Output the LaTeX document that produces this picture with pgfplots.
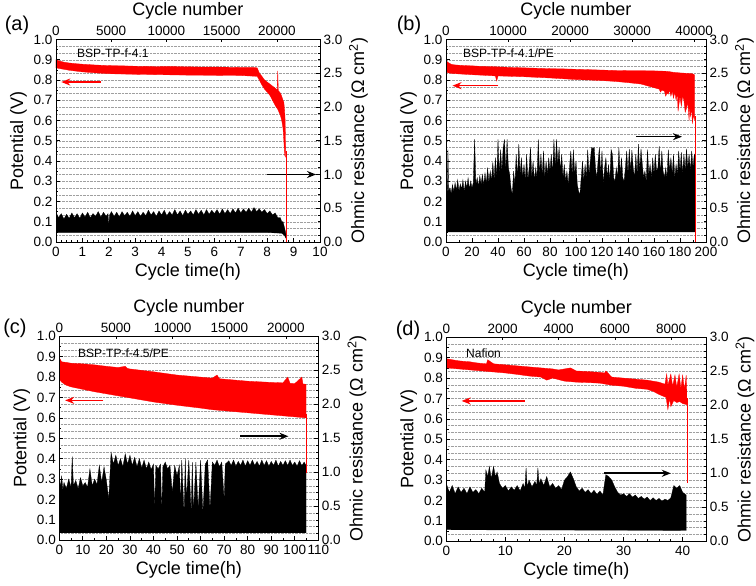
\documentclass[border=0pt]{standalone}
\usepackage{fontspec}
\setmainfont{Liberation Sans}
\usepackage{pgfplots}
\pgfplotsset{compat=1.18}
\usetikzlibrary{arrows.meta}
\pgfplotsset{
 base/.style={scale only axis, axis line style={line width=0.8pt}, tick align=inside,
   tick label style={font=\fontsize{13.5}{14}\selectfont},
   label style={font=\fontsize{18}{19}\selectfont},
   /pgf/number format/assume math mode=true,
   major tick length=4pt, minor tick length=2.2pt,
   every tick/.style={black, line width=0.7pt}},
 rax/.style={base, ymin=0, ymax=3, ytick={0,0.5,...,3}, minor y tick num=4,
   ytick pos=right, yticklabel pos=right,
   yticklabel style={/pgf/number format/fixed, /pgf/number format/fixed zerofill, /pgf/number format/precision=1},
   xticklabel style={yshift=-1.5pt},
   ymajorgrids, yminorgrids,
   major grid style={densely dotted, gray!75, line width=0.45pt},
   minor grid style={densely dotted, gray!75, line width=0.45pt},
   xtick pos=left, xticklabel pos=left,
   xlabel={Cycle time(h)}, ylabel={Ohmic resistance (Ω cm\textsuperscript{2})}},
 lax/.style={base, ymin=0, ymax=1, ytick={0,0.1,...,1.0}, minor y tick num=1,
   ytick pos=left, xtick=\empty,
   yticklabel style={/pgf/number format/fixed, /pgf/number format/fixed zerofill, /pgf/number format/precision=1},
   ylabel={Potential (V)}},
 tax/.style={base, ymin=0, ymax=1, ytick=\empty, xtick pos=right, xticklabel pos=right,
   xlabel={Cycle number}, scaled x ticks=false, major tick length=3pt,
   xticklabel style={/pgf/number format/1000 sep={}}},
}
\tikzset{rarrow/.style={red, line width=1.6pt, -{Stealth[length=9pt,width=7pt]}},
 karrow/.style={black, line width=1.6pt, -{Stealth[length=9pt,width=7pt]}}}
\begin{document}
\begin{tikzpicture}
%%%%%%%%%%%%%%%%%%%%%%%% (a)
\begin{axis}[rax, at={(56pt,344pt)}, anchor=south west, width=264pt, height=202.5pt,
  xmin=0, xmax=10, xtick={0,1,...,10}, minor x tick num=4]
\addplot[fill=black, draw=black, line width=0.3pt] coordinates {
(0,0.44) (0.1,0.36) (0.2,0.42) (0.3,0.34) (0.4,0.41) (0.5,0.35) (0.6,0.43) (0.7,0.36) (0.8,0.42) (0.9,0.35)
(1.0,0.43) (1.1,0.37) (1.2,0.44) (1.3,0.36) (1.4,0.42) (1.5,0.38) (1.6,0.45) (1.7,0.37) (1.8,0.44) (1.9,0.38)
(1.97,0.42) (2.0,0.24) (2.03,0.40) (2.1,0.45) (2.2,0.38) (2.3,0.44) (2.4,0.37) (2.5,0.45) (2.6,0.39) (2.7,0.44)
(2.8,0.38) (2.9,0.46) (3.0,0.39) (3.1,0.45) (3.2,0.38) (3.3,0.44) (3.4,0.39) (3.5,0.47) (3.6,0.40) (3.7,0.45)
(3.8,0.38) (3.9,0.46) (4.0,0.40) (4.1,0.47) (4.2,0.39) (4.3,0.45) (4.4,0.40) (4.5,0.48) (4.6,0.40) (4.7,0.46)
(4.8,0.39) (4.9,0.47) (5.0,0.41) (5.1,0.46) (5.2,0.40) (5.3,0.48) (5.4,0.41) (5.5,0.47) (5.6,0.40) (5.7,0.48)
(5.8,0.41) (5.9,0.47) (6.0,0.42) (6.1,0.48) (6.2,0.41) (6.3,0.49) (6.4,0.42) (6.5,0.48) (6.6,0.42) (6.7,0.49)
(6.8,0.43) (6.9,0.50) (7.0,0.43) (7.1,0.49) (7.2,0.44) (7.3,0.50) (7.4,0.44) (7.5,0.51) (7.6,0.45) (7.7,0.49)
(7.8,0.44) (7.9,0.48) (8.0,0.42) (8.1,0.46) (8.2,0.40) (8.3,0.43) (8.4,0.36) (8.5,0.36) (8.55,0.30) (8.6,0.30)
(8.65,0.22) (8.7,0.14) (8.72,0.05) (8.65,0.10) (8.55,0.13) (8.0,0.14) (4.0,0.14) (0,0.14)} -- cycle;
\draw[karrow] (axis cs:8.0,1.0) -- (axis cs:9.85,1.0);
\end{axis}
\begin{axis}[lax, at={(56pt,344pt)}, anchor=south west, width=264pt, height=202.5pt, xmin=0, xmax=10]
\addplot[fill=red, draw=red, line width=0.3pt] coordinates {
(0,0.900) (0.1,0.895) (0.3,0.888) (0.5,0.884) (0.8,0.880) (1.0,0.878) (1.5,0.874) (2.0,0.871) (2.5,0.870)
(3.0,0.868) (3.5,0.867) (4.0,0.866) (4.5,0.866) (5.0,0.865) (5.5,0.864) (6.0,0.864) (6.5,0.863) (7.0,0.862)
(7.5,0.862) (7.62,0.860) (7.7,0.835) (7.8,0.818) (7.9,0.800) (8.0,0.790) (8.1,0.780) (8.2,0.770) (8.3,0.760)
(8.38,0.752) (8.40,0.845) (8.42,0.748) (8.5,0.735) (8.55,0.720) (8.6,0.700) (8.63,0.690) (8.66,0.650) (8.68,0.600)
(8.70,0.45) (8.69,0.42) (8.66,0.43) (8.63,0.50) (8.6,0.56) (8.55,0.60) (8.5,0.625) (8.4,0.655) (8.3,0.675)
(8.2,0.700) (8.1,0.725) (8.0,0.740) (7.9,0.755) (7.8,0.775) (7.7,0.800) (7.62,0.818) (7.0,0.822) (6.0,0.823)
(5.0,0.824) (4.0,0.826) (3.0,0.828) (2.0,0.831) (1.5,0.835) (1.0,0.840) (0.5,0.848) (0.2,0.855) (0,0.860)} -- cycle;
\addplot[red, line width=0.6pt] coordinates {(8.71,0.45) (8.71,0)};
\draw[rarrow] (axis cs:1.7,0.79) -- (axis cs:0.2,0.79);
\end{axis}
\begin{axis}[tax, at={(56pt,344pt)}, anchor=south west, width=264pt, height=202.5pt,
  xmin=0, xmax=23900, xtick={0,5000,...,20000}]
\end{axis}
%%%%%%%%%%%%%%%%%%%%%%%% (b)
\begin{axis}[rax, at={(446pt,344pt)}, anchor=south west, width=260pt, height=202.5pt,
  xmin=0, xmax=200, xtick={0,20,...,200}, minor x tick num=1]
\addplot[fill=black, draw=black, line width=0.3pt] coordinates {
(0,0.15) (0,0.80) (1,0.75) (1.5,1.37) (2,0.75) (3,0.80) (4,0.72) (5,0.85) (6,0.74) (7,0.88) (8,0.76) (9,0.92)
(10,0.75) (11,0.86) (12,0.78) (13,0.92) (14,0.74) (15,0.90) (16,0.80) (17,0.95) (18,0.78) (19,0.90) (20,0.80)
(21,0.88) (22,1.52) (23,0.85) (24,0.95) (25,0.82) (26,0.98) (27,0.85) (28,1.00) (29,0.84) (30,1.02) (31,0.86)
(32,1.10) (33,0.88) (34,1.05) (35,0.90) (36,1.18) (37,0.92) (38,1.25) (39,0.95) (40,1.52) (41,1.00) (42,1.37)
(43,1.05) (44,1.40) (45,1.52) (46,1.05) (47,1.52) (48,1.10) (49,1.00) (50,0.80) (51,0.70) (52,1.05) (53,0.85)
(54,1.30) (55,0.95) (56,1.45) (57,1.00) (58,1.25) (59,0.95) (60,1.15) (61,0.90) (62,1.30) (63,0.92) (64,1.10)
(65,1.40) (66,0.95) (67,1.20) (68,0.90) (69,1.10) (70,0.95) (71,1.52) (72,1.00) (73,1.30) (74,0.98) (75,1.35)
(76,0.95) (77,1.20) (78,1.00) (79,1.25) (80,1.05) (81,1.30) (82,1.00) (83,1.52) (84,1.10) (85,1.52) (86,1.15)
(87,1.40) (88,1.05) (89,1.30) (90,0.95) (91,1.15) (92,0.90) (93,1.05) (94,0.85) (95,1.10) (96,1.35) (97,1.00)
(98,1.37) (99,1.00) (100,1.20) (101,0.85) (102,0.75) (103,0.70) (104,0.95) (105,1.20) (106,0.90) (107,1.15)
(108,0.95) (109,1.37) (110,1.00) (111,1.20) (112,1.40) (113,1.38) (114,1.40) (115,1.10) (116,0.95) (117,1.20)
(118,1.40) (119,1.00) (120,1.35) (121,0.85) (122,1.10) (123,1.25) (124,0.95) (125,1.15) (126,0.90) (127,1.37)
(128,1.30) (129,0.95) (130,0.90) (131,1.10) (132,0.95) (133,1.40) (134,1.00) (135,1.25) (136,0.95) (137,0.90)
(138,1.10) (139,1.35) (140,1.00) (141,1.38) (142,1.05) (143,1.36) (144,1.10) (145,0.95) (146,1.30) (147,1.00)
(148,1.45) (149,1.05) (150,1.38) (151,1.15) (152,0.95) (153,1.05) (154,0.90) (155,1.37) (156,1.00) (157,1.15)
(158,0.95) (159,1.25) (160,1.00) (161,1.30) (162,1.05) (163,1.10) (164,1.42) (165,1.00) (166,1.35) (167,1.05)
(168,0.95) (169,1.10) (170,0.95) (171,1.37) (172,1.05) (173,1.25) (174,1.00) (175,1.30) (176,0.95) (177,1.15)
(178,1.00) (179,1.35) (180,1.05) (181,1.33) (182,1.00) (183,1.30) (184,1.05) (185,1.38) (186,1.10) (187,1.30)
(188,1.05) (189,1.35) (190,1.10) (191,1.30) (191.5,1.28) (191.5,0.15)} -- cycle;
\draw[karrow] (axis cs:146,1.56) -- (axis cs:181.5,1.56);
\end{axis}
\begin{axis}[lax, at={(446pt,344pt)}, anchor=south west, width=260pt, height=202.5pt, xmin=0, xmax=200]
\addplot[fill=red, draw=red, line width=0.3pt] coordinates {
(0,0.895) (1,0.89) (2,0.885) (4,0.878) (6,0.875) (10,0.873) (15,0.871) (20,0.870) (25,0.868) (30,0.867) (40,0.865)
(50,0.862) (60,0.86) (70,0.858) (80,0.856) (90,0.855) (100,0.853) (110,0.851) (120,0.849) (130,0.847) (140,0.846)
(150,0.846) (160,0.845) (170,0.843) (175,0.838) (180,0.835) (185,0.833) (188,0.832) (190,0.830) (191.2,0.825)
(191.2,0.60) (190.5,0.63) (189.5,0.585) (189,0.66) (188,0.62) (187.5,0.68) (187,0.60) (186,0.69) (185,0.66)
(184,0.64) (183,0.70) (182,0.72) (181,0.67) (180,0.72) (178.5,0.645) (178,0.73) (177,0.70) (176,0.74) (175,0.71)
(174,0.745) (173,0.72) (172,0.75) (171,0.73) (170,0.735) (169,0.72) (168,0.745) (166,0.75) (165,0.74) (164,0.755)
(160,0.762) (150,0.78) (140,0.787) (130,0.793) (120,0.797) (110,0.80) (100,0.802) (90,0.806) (80,0.810) (70,0.813)
(60,0.816) (50,0.818) (40,0.82) (39,0.795) (38,0.82) (30,0.823) (20,0.826) (10,0.83) (5,0.832) (2,0.835) (0,0.84)} -- cycle;
\addplot[red, line width=0.6pt] coordinates {(191.8,0.62) (191.8,0)};
\draw[rarrow] (axis cs:40,0.772) -- (axis cs:5,0.772);
\end{axis}
\begin{axis}[tax, at={(446pt,344pt)}, anchor=south west, width=260pt, height=202.5pt,
  xmin=0, xmax=41900, xtick={0,10000,...,40000}]
\end{axis}
%%%%%%%%%%%%%%%%%%%%%%%% (c)
\begin{axis}[rax, at={(59.3pt,45.7pt)}, anchor=south west, width=259pt, height=204pt,
  xmin=0, xmax=110, xtick={0,10,...,110}, minor x tick num=1]
\addplot[fill=black, draw=black, line width=0.3pt] coordinates {
(0,0.11) (0,1.03) (0.5,0.75) (1,0.95) (1.5,0.74) (2,0.85) (3,0.76) (4,0.90) (5,0.78) (5.5,1.23) (6,0.80) (7,0.88)
(8,0.76) (9,0.92) (10,0.80) (11,0.85) (12,0.78) (13,1.05) (14,0.80) (15,0.90) (16,0.82) (17,1.10) (18,0.85)
(19,1.08) (20,0.88) (21,0.60) (21.5,0.95) (22,1.29) (23,1.12) (24,1.25) (25,1.10) (26,1.20) (27,1.08) (28,1.27)
(29,1.12) (30,1.25) (31,1.10) (32,1.22) (33,1.08) (34,1.20) (35,1.06) (36,1.18) (37,1.05) (38,1.15) (39,1.04)
(40,1.12) (40.5,0.45) (41,1.10) (42,1.05) (43,1.12) (43.5,0.40) (44,1.08) (45,1.15) (46,1.05) (47,1.10) (48,0.70)
(49,1.10) (50,0.95) (51,1.10) (51.5,0.50) (52,1.18) (53,0.38) (53.5,1.20) (54,0.60) (55,1.18) (56,0.42) (56.5,1.15)
(57,0.40) (58,1.15) (59,0.45) (60,1.18) (61,0.40) (62,1.12) (63,1.18) (64,0.45) (65,1.15) (66,1.10) (67,1.18)
(68,1.08) (69,1.15) (70,0.60) (70.5,1.12) (72,1.17) (73,1.10) (74,1.18) (75,1.09) (76,1.16) (77,1.10) (78,1.18)
(79,1.09) (80,1.17) (81,1.10) (82,1.18) (83,1.10) (84,1.16) (85,1.09) (86,1.18) (87,1.10) (88,1.17) (89,1.09)
(90,1.16) (91,1.10) (92,1.18) (93,1.09) (94,1.16) (95,1.10) (96,1.17) (97,1.10) (98,1.18) (99,1.10) (100,1.15)
(101,1.09) (102,1.17) (103,1.10) (104,1.15) (104.8,1.10) (104.8,0.11)} -- cycle;
\draw[karrow] (axis cs:76.9,1.53) -- (axis cs:97.3,1.53);
\end{axis}
\begin{axis}[lax, at={(59.3pt,45.7pt)}, anchor=south west, width=259pt, height=204pt, xmin=0, xmax=110]
\addplot[fill=red, draw=red, line width=0.3pt] coordinates {
(0,0.895) (0.5,0.885) (1,0.875) (3,0.872) (5,0.868) (10,0.865) (15,0.86) (20,0.853) (25,0.847) (28,0.853) (29,0.842)
(30,0.84) (35,0.833) (40,0.826) (45,0.818) (50,0.81) (55,0.805) (60,0.80) (65,0.795) (67,0.81) (68,0.792) (70,0.79)
(75,0.785) (80,0.78) (85,0.777) (90,0.774) (95,0.772) (97,0.80) (98,0.77) (100,0.768) (103,0.80) (103.5,0.766)
(104.8,0.765) (104.8,0.60) (100,0.605) (95,0.61) (90,0.615) (85,0.62) (80,0.625) (75,0.63) (70,0.635) (65,0.64)
(60,0.648) (55,0.655) (50,0.662) (45,0.67) (40,0.678) (35,0.688) (30,0.698) (25,0.708) (20,0.718) (15,0.728)
(10,0.74) (5,0.752) (3,0.76) (1,0.775) (0,0.79)} -- cycle;
\addplot[red, line width=0.6pt] coordinates {(105,0.62) (105,0.33)};
\draw[rarrow] (axis cs:18.7,0.686) -- (axis cs:2.5,0.686);
\end{axis}
\begin{axis}[tax, at={(59.3pt,45.7pt)}, anchor=south west, width=259pt, height=204pt,
  xmin=0, xmax=22850, xtick={0,5000,...,20000}]
\end{axis}
%%%%%%%%%%%%%%%%%%%%%%%% (d)
\begin{axis}[rax, at={(446.3pt,44.7pt)}, anchor=south west, width=260pt, height=204pt,
  xmin=0, xmax=44, xtick={0,10,...,40}, minor x tick num=4]
\addplot[fill=black, draw=black, line width=0.3pt] coordinates {
(0,0.17) (0,0.85) (0.5,0.72) (1,0.82) (1.5,0.70) (2,0.80) (2.5,0.72) (3,0.78) (3.5,0.70) (4,0.80) (4.5,0.72) (5,0.76)
(5.5,0.70) (6,0.78) (6.5,0.72) (6.7,1.05) (7,0.95) (7.3,1.10) (7.6,0.92) (8,1.10) (8.3,0.95) (8.6,1.02) (9,0.85)
(9.5,0.78) (10,0.82) (10.5,0.74) (11,0.80) (11.5,0.75) (12,0.82) (12.5,0.74) (13,0.85) (13.3,0.78) (13.5,1.08)
(13.7,0.80) (14,0.90) (14.5,0.80) (15,0.88) (15.3,0.82) (15.5,1.08) (15.7,0.84) (16,0.92) (16.5,0.82) (17,0.95)
(17.5,0.80) (18,0.85) (18.5,0.78) (19,0.82) (19.5,0.76) (20,0.90) (20.5,0.95) (21,1.02) (21.5,0.92) (22,0.80)
(22.5,0.74) (23,0.78) (23.5,0.72) (24,0.76) (24.5,0.70) (25,0.75) (25.5,0.69) (26,0.74) (26.5,0.68) (27,0.98)
(27.5,0.95) (28,0.90) (28.5,0.80) (29,0.72) (29.5,0.68) (30,0.70) (30.5,0.66) (31,0.70) (31.5,0.65) (32,0.68)
(32.5,0.63) (33,0.66) (33.5,0.62) (34,0.65) (34.5,0.60) (35,0.64) (35.5,0.60) (36,0.63) (36.5,0.59) (37,0.62)
(37.5,0.60) (38,0.64) (38.5,0.82) (39,0.78) (39.5,0.82) (40,0.72) (40.3,0.70) (40.6,0.68) (40.6,0.16)} -- cycle;
\draw[karrow] (axis cs:26.7,1.0) -- (axis cs:38.0,1.0);
\end{axis}
\begin{axis}[lax, at={(446.3pt,44.7pt)}, anchor=south west, width=260pt, height=204pt, xmin=0, xmax=44]
\addplot[fill=red, draw=red, line width=0.3pt] coordinates {
(0,0.895) (1,0.89) (2,0.885) (3,0.882) (4,0.88) (5,0.875) (6,0.872) (6.8,0.87) (7,0.89) (7.5,0.88) (8,0.87)
(10,0.865) (12,0.86) (14,0.855) (16,0.85) (18,0.845) (19,0.84) (20,0.845) (21,0.85) (22,0.835) (24,0.832)
(26,0.828) (26.8,0.825) (27,0.835) (27.5,0.82) (28,0.805) (30,0.80) (32,0.795) (34,0.79) (35,0.785) (36,0.78)
(37,0.77) (37.3,0.82) (37.5,0.765) (38,0.82) (38.3,0.76) (38.7,0.815) (39,0.755) (39.4,0.82) (39.7,0.75)
(40,0.815) (40.3,0.745) (40.6,0.815) (40.7,0.74) (40.7,0.67) (40,0.675) (39.5,0.685) (39,0.68) (38.5,0.69)
(38,0.66) (37.8,0.70) (37.5,0.645) (37.2,0.705) (36,0.72) (35,0.735) (34,0.745) (32,0.75) (30,0.76) (28,0.765)
(27,0.77) (26,0.775) (24,0.778) (22,0.78) (20,0.785) (18,0.80) (17,0.79) (16,0.805) (14,0.81) (12,0.818)
(10,0.825) (8,0.83) (6,0.835) (4,0.84) (2,0.845) (0,0.85)} -- cycle;
\addplot[red, line width=0.6pt] coordinates {(40.8,0.70) (40.8,0.285)};
\draw[rarrow] (axis cs:13.3,0.688) -- (axis cs:2.6,0.688);
\end{axis}
\begin{axis}[tax, at={(446.3pt,44.7pt)}, anchor=south west, width=260pt, height=204pt,
  xmin=0, xmax=9250, xtick={0,2000,...,8000}]
\end{axis}
%%%%%%%%%%%%%%%%%%%%%%%% labels
\node[font=\fontsize{20}{22}\selectfont] at (17pt,561pt) {(a)};
\node[font=\fontsize{20}{22}\selectfont] at (409pt,561pt) {(b)};
\node[font=\fontsize{20}{22}\selectfont] at (15pt,258pt) {(c)};
\node[font=\fontsize{20}{22}\selectfont] at (408pt,256pt) {(d)};
\node[font=\fontsize{12}{13}\selectfont, anchor=west, inner sep=0pt] at (77pt,533pt) {BSP-TP-f-4.1};
\node[font=\fontsize{12}{13}\selectfont, anchor=west, inner sep=0pt] at (463pt,533pt) {BSP-TP-f-4.1/PE};
\node[font=\fontsize{12}{13}\selectfont, anchor=west, inner sep=0pt] at (78pt,233pt) {BSP-TP-f-4.5/PE};
\node[font=\fontsize{12}{13}\selectfont, anchor=west, inner sep=0pt] at (466pt,233pt) {Nafion};
\pgfresetboundingbox
\useasboundingbox (0pt,0pt) rectangle (756pt,586pt);
\end{tikzpicture}
\end{document}
